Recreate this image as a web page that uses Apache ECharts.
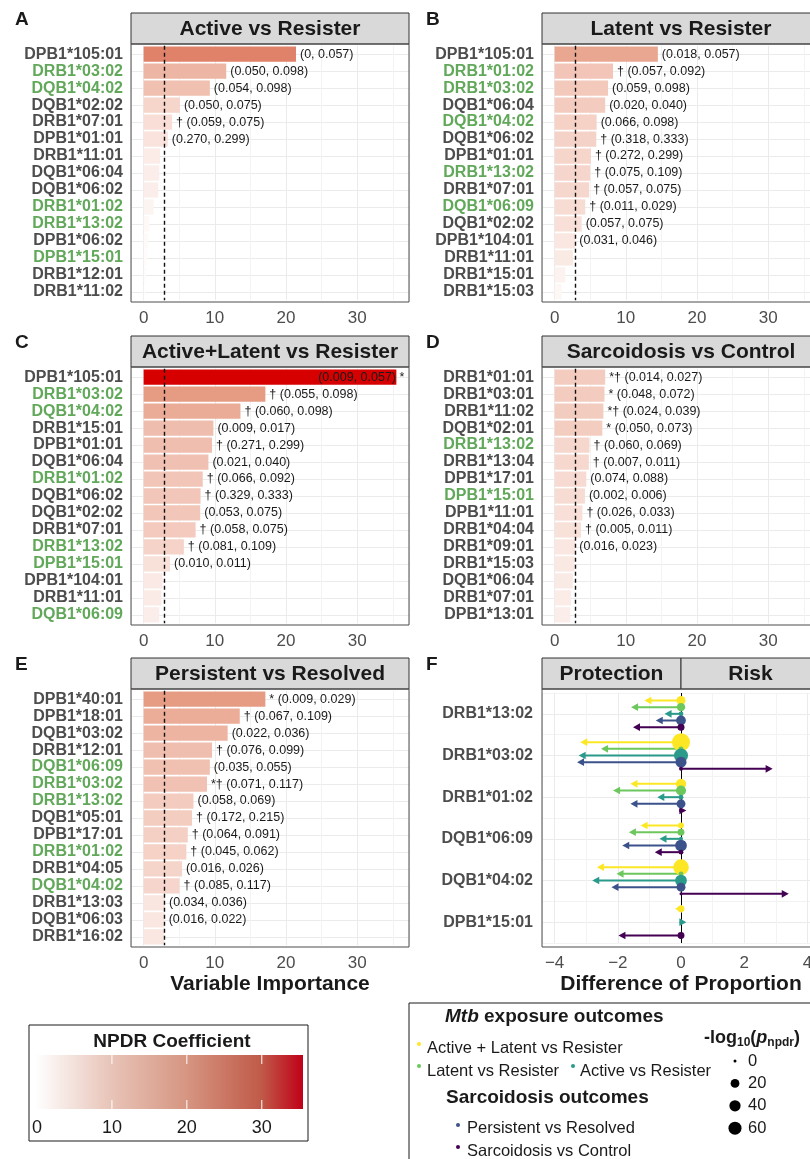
<!DOCTYPE html>
<html>
<head>
<meta charset="utf-8">
<script src="https://cdn.jsdelivr.net/npm/echarts@6/dist/echarts.min.js"></script>
<style>
  html, body { margin: 0; padding: 0; background: #fff; }
  #chart { width: 810px; height: 1159px; }
</style>
</head>
<body>
<div id="chart"></div>
<script>
// ---- data ----
const allelesA = ['DPB1*105:01', 'DRB1*03:02', 'DQB1*04:02', 'DQB1*02:02', 'DRB1*07:01', 'DPB1*01:01', 'DRB1*11:01', 'DQB1*06:04', 'DQB1*06:02', 'DRB1*01:02', 'DRB1*13:02', 'DPB1*06:02', 'DPB1*15:01', 'DRB1*12:01', 'DRB1*11:02']
const impA = [21.4, 11.6, 9.3, 5.1, 4.0, 3.4, 2.3, 2.2, 2.05, 1.4, 0.8, 0.6, 0.5, 0.3, 0.2]
const labA = ['(0, 0.057)', '(0.050, 0.098)', '(0.054, 0.098)', '(0.050, 0.075)', '† (0.059, 0.075)', '(0.270, 0.299)', '', '', '', '', '', '', '', '', '']

const allelesB = ['DPB1*105:01', 'DRB1*01:02', 'DRB1*03:02', 'DQB1*06:04', 'DQB1*04:02', 'DQB1*06:02', 'DPB1*01:01', 'DRB1*13:02', 'DRB1*07:01', 'DQB1*06:09', 'DQB1*02:02', 'DPB1*104:01', 'DRB1*11:01', 'DRB1*15:01', 'DRB1*15:03']
const impB = [14.5, 8.2, 7.5, 7.1, 5.9, 5.85, 5.1, 5.0, 4.85, 4.3, 3.8, 2.9, 2.6, 1.5, 1.0]
const labB = ['(0.018, 0.057)', '† (0.057, 0.092)', '(0.059, 0.098)', '(0.020, 0.040)', '(0.066, 0.098)', '† (0.318, 0.333)', '† (0.272, 0.299)', '† (0.075, 0.109)', '† (0.057, 0.075)', '† (0.011, 0.029)', '(0.057, 0.075)', '(0.031, 0.046)', '', '', '']

const allelesC = ['DPB1*105:01', 'DRB1*03:02', 'DQB1*04:02', 'DRB1*15:01', 'DPB1*01:01', 'DQB1*06:04', 'DRB1*01:02', 'DQB1*06:02', 'DQB1*02:02', 'DRB1*07:01', 'DRB1*13:02', 'DPB1*15:01', 'DPB1*104:01', 'DRB1*11:01', 'DQB1*06:09']
const impC = [35.5, 17.1, 13.6, 9.8, 9.6, 9.1, 8.3, 8.0, 7.95, 7.3, 5.65, 3.7, 2.65, 2.5, 2.2]
const labC = ['(0.009, 0.057) *', '† (0.055, 0.098)', '† (0.060, 0.098)', '(0.009, 0.017)', '† (0.271, 0.299)', '(0.021, 0.040)', '† (0.066, 0.092)', '† (0.329, 0.333)', '(0.053, 0.075)', '† (0.058, 0.075)', '† (0.081, 0.109)', '(0.010, 0.011)', '', '', '']

const allelesD = ['DRB1*01:01', 'DRB1*03:01', 'DRB1*11:02', 'DQB1*02:01', 'DRB1*13:02', 'DRB1*13:04', 'DPB1*17:01', 'DPB1*15:01', 'DPB1*11:01', 'DRB1*04:04', 'DRB1*09:01', 'DRB1*15:03', 'DQB1*06:04', 'DRB1*07:01', 'DPB1*13:01']
const impD = [7.1, 7.0, 6.85, 6.7, 4.9, 4.8, 4.45, 4.25, 3.9, 3.7, 2.9, 2.8, 2.55, 2.3, 2.2]
const labD = ['*† (0.014, 0.027)', '* (0.048, 0.072)', '*† (0.024, 0.039)', '* (0.050, 0.073)', '† (0.060, 0.069)', '† (0.007, 0.011)', '(0.074, 0.088)', '(0.002, 0.006)', '† (0.026, 0.033)', '† (0.005, 0.011)', '(0.016, 0.023)', '', '', '', '']

const allelesE = ['DPB1*40:01', 'DPB1*18:01', 'DQB1*03:02', 'DRB1*12:01', 'DQB1*06:09', 'DRB1*03:02', 'DRB1*13:02', 'DQB1*05:01', 'DPB1*17:01', 'DRB1*01:02', 'DRB1*04:05', 'DQB1*04:02', 'DRB1*13:03', 'DQB1*06:03', 'DRB1*16:02']
const impE = [17.1, 13.5, 11.8, 9.6, 9.3, 8.9, 7.0, 6.8, 6.2, 6.0, 5.4, 5.05, 3.0, 2.95, 2.9]
const labE = ['* (0.009, 0.029)', '† (0.067, 0.109)', '(0.022, 0.036)', '† (0.076, 0.099)', '(0.035, 0.055)', '*† (0.071, 0.117)', '(0.058, 0.069)', '† (0.172, 0.215)', '† (0.064, 0.091)', '† (0.045, 0.062)', '(0.016, 0.026)', '† (0.085, 0.117)', '(0.034, 0.036)', '(0.016, 0.022)', '']

const cutoff = 2.95

// panel F: difference of proportion per outcome, one value per allele (null = not shown)
const fAlleles = ['DRB1*13:02', 'DRB1*03:02', 'DRB1*01:02', 'DQB1*06:09', 'DQB1*04:02', 'DPB1*15:01']
const fOutcomes = ['Active + Latent vs Resister', 'Latent vs Resister', 'Active vs Resister', 'Persistent vs Resolved', 'Sarcoidosis vs Control']
const diffAL = [-1.16, -3.19, -1.60, -1.28, -2.66, -0.19]
const diffL = [-1.58, -2.53, -2.15, -1.65, -2.04, null]
const diffA = [-0.52, -3.24, -0.75, -0.68, -2.81, 0.17]
const diffPR = [-0.80, -3.29, -1.60, -1.86, -2.20, null]
const diffSC = [-1.52, 2.90, 0.17, -0.83, 3.41, -1.98]
// -log10(p_npdr)
const logpAL = [21, 133, 32, 5, 95, 9]
const logpL = [17, 2, 30, 9, 2, null]
const logpA = [2, 72, 2, 0.6, 45, 0]
const logpPR = [27, 38, 21, 45, 21, null]
const logpSC = [9.5, 0.6, 0.6, 2, 0, 9]

const sizeBreaks = [0, 20, 40, 60]
const npdrTicks = [10, 20, 30]
const npdrMax = 35.5

// ---- styling ----
const FONT = '"Liberation Sans", Arial, Helvetica, sans-serif'
const GREY = '#4d4d4d'
const GREEN = '#62a85a'
const fColors = ['#FDE725', '#6CC75C', '#2A9A8B', '#3B528B', '#440154']

const barStops = [[0, [255, 255, 255]], [5, [246, 214, 204]], [10, [239, 188, 172]], [17, [230, 156, 132]], [21.4, [224, 130, 106]], [35.5, [214, 0, 0]]]
const barColor = (v) => {
  for (let i = 1; i < barStops.length; i++) {
    if (v <= barStops[i][0]) {
      const [v0, c0] = barStops[i - 1]
      const [v1, c1] = barStops[i]
      const t = (v - v0) / (v1 - v0)
      return 'rgb(' + c0.map((c, j) => Math.round(c + (c1[j] - c) * t)).join(',') + ')'
    }
  }
  return 'rgb(214,0,0)'
}
const legendStops = [[0, '#ffffff'], [10, '#e8c4b8'], [20, '#d69682'], [30, '#c05a48'], [35.5, '#c00018']]
const pointR = (v) => (3 + 1.3 * Math.sqrt(v)) / 2

const PW = 278, PH = 258, STRIP = 31
const INSET = 1.7   // ggplot-style 0.6 band padding on the discrete axis
const barPanels = [
  { tag: 'A', title: 'Active vs Resister', alleles: allelesA, imp: impA, labs: labA, left: 131, top: 13 },
  { tag: 'B', title: 'Latent vs Resister', alleles: allelesB, imp: impB, labs: labB, left: 542, top: 13 },
  { tag: 'C', title: 'Active+Latent vs Resister', alleles: allelesC, imp: impC, labs: labC, left: 131, top: 336 },
  { tag: 'D', title: 'Sarcoidosis vs Control', alleles: allelesD, imp: impD, labs: labD, left: 542, top: 336 },
  { tag: 'E', title: 'Persistent vs Resolved', alleles: allelesE, imp: impE, labs: labE, left: 131, top: 658 }
]

const txt = (x, y, text, font, align = 'left', fill = '#1a1a1a', extra = {}) => ({
  type: 'text', x, y, silent: true, z: 50,
  style: Object.assign({ text, font, fill, align, verticalAlign: 'middle', textAlign: align, textVerticalAlign: 'middle' }, extra)
})
const box = (x, y, w, h, fill, stroke, z = 40) => ({
  type: 'rect', silent: true, z,
  shape: { x, y, width: w, height: h },
  style: { fill, stroke, lineWidth: 1 }
})

const grid = [], xAxis = [], yAxis = [], series = [], graphic = []

barPanels.forEach((p, i) => {
  grid.push({ left: p.left, top: p.top + STRIP + INSET, width: PW, height: PH - 2 * INSET, outerBoundsMode: 'none' })
  xAxis.push({
    gridIndex: i, type: 'value', min: -1.775, max: 37.275, offset: INSET,
    axisLine: { show: false },
    axisTick: { length: 4, lineStyle: { color: '#333' } },
    axisLabel: { showMinLabel: false, showMaxLabel: false, fontSize: 17, color: GREY, margin: 8, fontFamily: FONT },
    splitLine: { lineStyle: { color: '#ebebeb' } }
  })
  yAxis.push({
    gridIndex: i, type: 'category', data: p.alleles, inverse: true,
    axisLine: { show: false },
    axisTick: { alignWithLabel: true, interval: 0, length: 4, lineStyle: { color: '#333' } },
    axisLabel: {
      interval: 0, fontSize: 16, fontWeight: 'bold', margin: 8, fontFamily: FONT,
      color: (v) => fAlleles.includes(v) ? GREEN : GREY
    },
    splitLine: { show: true, interval: 0, alignWithLabel: true, lineStyle: { color: '#ebebeb' } }
  })
  // minor vertical grid lines, kept under the bars
  series.push({
    type: 'scatter', xAxisIndex: i, yAxisIndex: i, data: [], silent: true, z: 1,
    markLine: {
      silent: true, symbol: 'none', label: { show: false }, animation: false, z: 1,
      lineStyle: { color: '#f3f3f3', type: 'solid', width: 1 },
      data: [5, 15, 25, 35].map(x => ({ xAxis: x }))
    }
  })
  series.push({
    type: 'bar', xAxisIndex: i, yAxisIndex: i, barWidth: '90%', z: 3,
    data: p.imp.map(v => v > 30
      ? { value: v, label: { position: 'insideRight', offset: [12, 0], color: '#1a1a1a', textBorderWidth: 0 } }
      : v),
    itemStyle: { color: (d) => barColor(d.value) },
    label: {
      show: true, position: 'right', distance: 4, color: '#1a1a1a', fontSize: 12.5, fontFamily: FONT,
      formatter: (d) => p.labs[d.dataIndex]
    },
    markLine: {
      silent: true, symbol: 'none', label: { show: false }, animation: false, z: 4,
      lineStyle: { color: '#111', type: [4, 3], width: 1.4 },
      data: [{ xAxis: cutoff }]
    }
  })
  graphic.push(box(p.left, p.top + STRIP, PW, PH, 'none', GREY, 45))
  graphic.push(box(p.left, p.top, PW, STRIP, '#d9d9d9', '#333'))
  graphic.push(txt(p.left + PW / 2, p.top + STRIP / 2 + 1, p.title, 'bold 21px ' + FONT, 'center'))
  graphic.push(txt(p.left - 116, p.top + 7, p.tag, 'bold 19px ' + FONT))
})

// ---- panel F ----
const FL = 542, FT = 658
grid.push({ left: FL, top: FT + STRIP + 4, width: PW, height: PH - 8, outerBoundsMode: 'none' })
xAxis.push({
  gridIndex: 5, type: 'value', min: -4.4, max: 4.4, offset: 4,
  axisLine: { show: false },
  axisTick: { length: 4, lineStyle: { color: '#333' } },
  axisLabel: { showMinLabel: false, showMaxLabel: false, fontSize: 17, color: GREY, margin: 8, fontFamily: FONT, formatter: (v) => String(v).replace('-', '−') },
  splitLine: { lineStyle: { color: '#ebebeb' } },
  minorTick: { show: false, splitNumber: 2 },
  minorSplitLine: { show: true, lineStyle: { color: '#f3f3f3' } }
})
yAxis.push({
  gridIndex: 5, type: 'category', data: fAlleles, inverse: true,
  axisLine: { show: false },
  axisTick: { alignWithLabel: true, interval: 0, length: 4, lineStyle: { color: '#333' } },
  axisLabel: { interval: 0, fontSize: 16, fontWeight: 'bold', margin: 9, color: GREY, fontFamily: FONT },
  splitLine: { show: true, interval: 0, alignWithLabel: true, lineStyle: { color: '#ebebeb' } }
})
yAxis.push({
  gridIndex: 5, type: 'category', data: fAlleles, inverse: true, position: 'left',
  axisLine: { show: false }, axisTick: { show: false }, axisLabel: { show: false },
  splitLine: { show: true, interval: 0, lineStyle: { color: '#f3f3f3' } }
})

// zero line
series.push({
  type: 'scatter', xAxisIndex: 5, yAxisIndex: 5, data: [], silent: true, z: 2,
  markLine: {
    silent: true, symbol: 'none', label: { show: false }, animation: false, z: 2,
    lineStyle: { color: '#000', type: 'solid', width: 1 },
    data: [{ xAxis: 0 }]
  }
})

const dodge = (api, k, cat) => {
  const base = api.coord([0, cat])
  const band = api.size([0, 1])[1]
  return [base[0], base[1] + (k - 2) * 0.16 * band]
}
const arrowItem = (k) => (params, api) => {
  const v = api.value(0)
  const [x0, y] = dodge(api, k, api.value(1))
  const x1 = api.coord([v, api.value(1)])[0]
  const dir = v >= 0 ? 1 : -1
  const head = 7, half = 3.8
  const col = api.visual('color')
  return {
    type: 'group',
    children: [
      { type: 'line', shape: { x1: x0, y1: y, x2: x1 - dir * head * 0.6, y2: y }, style: { stroke: col, lineWidth: 2 } },
      { type: 'polygon', shape: { points: [[x1, y], [x1 - dir * head, y - half], [x1 - dir * head, y + half]] }, style: { fill: col } }
    ]
  }
}
const pointItem = (k) => (params, api) => {
  const [x0, y] = dodge(api, k, api.value(1))
  return { type: 'circle', shape: { cx: x0, cy: y, r: pointR(api.value(2)) }, style: { fill: api.visual('color') } }
}

const fDiffs = [diffAL, diffL, diffA, diffPR, diffSC]
const fLogp = [logpAL, logpL, logpA, logpPR, logpSC]
const pointSeries = []
fDiffs.forEach((diffs, k) => {
  const data = []
  diffs.forEach((d, c) => { if (d !== null) data.push([d, c, fLogp[k][c]]) })
  series.push({ type: 'custom', name: fOutcomes[k], xAxisIndex: 5, yAxisIndex: 5, data, clip: false, z: 3, itemStyle: { color: fColors[k] }, renderItem: arrowItem(k) })
  pointSeries.push({ type: 'custom', name: fOutcomes[k], xAxisIndex: 5, yAxisIndex: 5, data, clip: false, z: 4, itemStyle: { color: fColors[k] }, renderItem: pointItem(k) })
})
series.push(...pointSeries)

graphic.push(box(FL, FT + STRIP, PW, PH, 'none', GREY, 45))
graphic.push(box(FL, FT, PW / 2, STRIP, '#d9d9d9', '#333'))
graphic.push(box(FL + PW / 2, FT, PW / 2, STRIP, '#d9d9d9', '#333'))
graphic.push(txt(FL + PW / 4, FT + STRIP / 2 + 1, 'Protection', 'bold 21px ' + FONT, 'center'))
graphic.push(txt(FL + PW * 3 / 4, FT + STRIP / 2 + 1, 'Risk', 'bold 21px ' + FONT, 'center'))
graphic.push(txt(FL - 116, FT + 7, 'F', 'bold 19px ' + FONT))

// axis titles
graphic.push(txt(270, 984, 'Variable Importance', 'bold 21px ' + FONT, 'center'))
graphic.push(txt(681, 984, 'Difference of Proportion', 'bold 21px ' + FONT, 'center'))

// ---- NPDR colour bar legend ----
grid.push({ left: 37, top: 1055, width: 266, height: 54, outerBoundsMode: 'none' })
xAxis.push({
  gridIndex: 6, type: 'value', min: 0, max: npdrMax,
  axisLine: { show: false }, axisTick: { show: false }, splitLine: { show: false },
  axisLabel: { showMaxLabel: false, fontSize: 18, color: '#1a1a1a', margin: 10, fontFamily: FONT }
})
yAxis.push({ gridIndex: 6, type: 'value', min: 0, max: 1, show: false })
series.push({
  type: 'custom', xAxisIndex: 6, yAxisIndex: 7, data: [[0, npdrMax]], silent: true, z: 5,
  renderItem: (params, api) => {
    const a = api.coord([api.value(0), 0])
    const b = api.coord([api.value(1), 1])
    const grad = new echarts.graphic.LinearGradient(0, 0, 1, 0,
      legendStops.map(([v, c]) => ({ offset: v / npdrMax, color: c })))
    const children = [{ type: 'rect', shape: { x: a[0] - 2, y: b[1], width: b[0] - a[0] + 2, height: a[1] - b[1] }, style: { fill: grad } }]
    npdrTicks.forEach(t => {
      const x = api.coord([t, 0])[0]
      children.push({ type: 'line', shape: { x1: x, y1: b[1], x2: x, y2: b[1] + 9 }, style: { stroke: '#fff', lineWidth: 1 } })
      children.push({ type: 'line', shape: { x1: x, y1: a[1] - 9, x2: x, y2: a[1] }, style: { stroke: '#fff', lineWidth: 1 } })
    })
    return { type: 'group', children }
  }
})
graphic.push(box(29, 1025, 279, 116, 'none', '#1a1a1a'))
graphic.push(txt(172, 1042, 'NPDR Coefficient', 'bold 19px ' + FONT, 'center'))

// ---- outcome / size legend ----
graphic.push(box(409, 1003, 500, 300, 'none', '#1a1a1a'))
graphic.push(txt(445, 1017, '{i|Mtb}{b| exposure outcomes}', 'bold 19px ' + FONT, 'left', '#1a1a1a', {
  rich: {
    i: { fontSize: 19, fontWeight: 'bold', fontStyle: 'italic', fontFamily: FONT, fill: '#1a1a1a' },
    b: { fontSize: 19, fontWeight: 'bold', fontFamily: FONT, fill: '#1a1a1a' }
  }
}))
graphic.push(txt(446, 1098, 'Sarcoidosis outcomes', 'bold 19px ' + FONT))
const legendItems = [
  [419, 1044, 427, 1048],
  [419, 1066, 427, 1071],
  [573, 1066, 580, 1071],
  [458, 1125, 467, 1128],
  [458, 1147, 467, 1151]
]
legendItems.forEach(([dx, dy, tx, ty], k) => {
  graphic.push({ type: 'circle', silent: true, z: 50, shape: { cx: dx, cy: dy, r: 2 }, style: { fill: fColors[k] } })
  graphic.push(txt(tx, ty, fOutcomes[k], '16.5px ' + FONT))
})
graphic.push(txt(704, 1038, '{b|-log}{s|10}{b|(}{p|p}{s|npdr}{b|)}', 'bold 18px ' + FONT, 'left', '#1a1a1a', {
  rich: {
    b: { fontSize: 18, fontWeight: 'bold', fontFamily: FONT, lineHeight: 22 },
    p: { fontSize: 18, fontWeight: 'bold', fontStyle: 'italic', fontFamily: FONT, lineHeight: 22 },
    s: { fontSize: 12, fontWeight: 'bold', fontFamily: FONT, lineHeight: 15, verticalAlign: 'bottom' }
  }
}))
sizeBreaks.forEach((s, j) => {
  const y = 1061 + j * 22.4
  graphic.push({ type: 'circle', silent: true, z: 50, shape: { cx: 735, cy: y, r: pointR(s) }, style: { fill: '#000' } })
  graphic.push(txt(748, y, String(s), '16.5px ' + FONT))
})

const chart = echarts.init(document.getElementById('chart'), null, { renderer: 'canvas' })
chart.setOption({
  animation: false,
  backgroundColor: '#fff',
  textStyle: { fontFamily: FONT },
  grid, xAxis, yAxis, series, graphic
})
</script>
</body>
</html>
